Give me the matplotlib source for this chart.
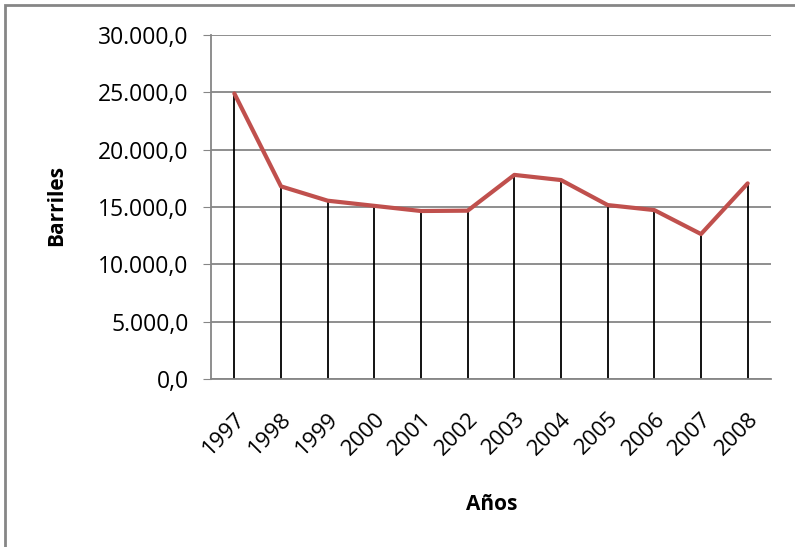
import matplotlib
matplotlib.use("Agg")
import matplotlib.pyplot as plt
from matplotlib.ticker import FuncFormatter
from matplotlib.patches import Rectangle
from matplotlib.transforms import ScaledTranslation

years = ["1997", "1998", "1999", "2000", "2001", "2002", "2003", "2004", "2005", "2006", "2007", "2008"]
barriles = [24900, 16800, 15550, 15100, 14650, 14680, 17800, 17350, 15170, 14730, 12640, 17060]

plt.rcParams['font.family'] = ['Open Sans', 'DejaVu Sans']

fig = plt.figure(figsize=(7.95, 5.47), dpi=100)
ax = fig.add_axes([211/795, 1-379/547, (771-211)/795, (379-35)/547])

x = list(range(len(years)))
ax.vlines(x, 0, barriles, color='black', linewidth=1.3, zorder=2)
ax.plot(x, barriles, color='#C0504D', linewidth=3.0, zorder=3, solid_capstyle='round')

ax.set_xlim(-0.5, len(years) - 0.5)
ax.set_ylim(0, 30000)
ax.set_yticks(range(0, 30001, 5000))
ax.yaxis.set_major_formatter(FuncFormatter(lambda v, p: f"{int(v):,}".replace(",", ".") + ",0"))
ax.set_xticks(x)
ax.set_xticklabels(years, rotation=45, ha='right', va='top', rotation_mode='anchor', fontsize=16)
off = ScaledTranslation(4/100, 0, fig.dpi_scale_trans)
for lab in ax.get_xticklabels():
    lab.set_transform(lab.get_transform() + off)
ax.tick_params(axis='y', labelsize=16.5, length=6, color='#868686', pad=10)
ax.tick_params(axis='x', length=0, pad=21)

ax.grid(axis='y', color='#868686', linewidth=1.3, zorder=1)
ax.set_axisbelow(True)
for s in ['top', 'right']:
    ax.spines[s].set_visible(False)
ax.spines['left'].set_color('#868686')
ax.spines['bottom'].set_color('#868686')
ax.spines['left'].set_linewidth(1.3)
ax.spines['bottom'].set_linewidth(1.3)

fig.text(57/795, 1-205/547, "Barriles", fontsize=15, fontweight='bold', ha='center', va='center', rotation=90)
fig.text(492/795, 1-505/547, "Años", fontsize=15, fontweight='bold', ha='center', va='center')

fig.patches.append(Rectangle((5/795, -0.1), 1.2, 1-5/547+0.1, transform=fig.transFigure,
                             fill=False, edgecolor='#868686', linewidth=2))

fig.savefig("out.png", dpi=100)
